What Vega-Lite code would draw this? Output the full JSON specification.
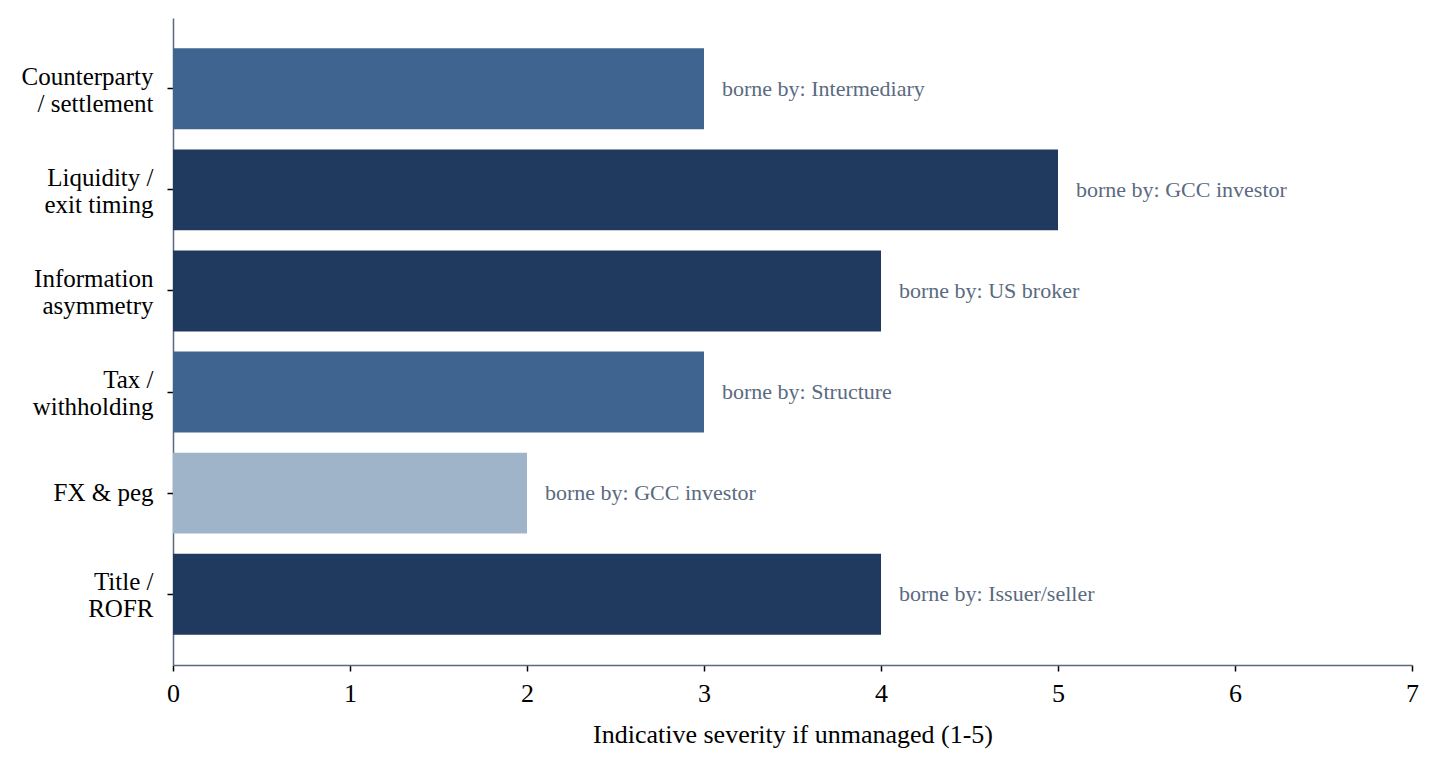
{
  "$schema": "https://vega.github.io/schema/vega-lite/v6.json",
  "width": 1239,
  "height": 647,
  "autosize": {"type": "none"},
  "padding": {"left": 173, "top": 18, "right": 29, "bottom": 104},
  "background": "white",
  "config": {
    "font": "Liberation Serif",
    "view": {"stroke": null}
  },
  "data": {
    "values": [
      {"risk": "Counterparty|/ settlement", "severity": 3, "bearer": "borne by: Intermediary"},
      {"risk": "Liquidity /|exit timing", "severity": 5, "bearer": "borne by: GCC investor"},
      {"risk": "Information|asymmetry", "severity": 4, "bearer": "borne by: US broker"},
      {"risk": "Tax /|withholding", "severity": 3, "bearer": "borne by: Structure"},
      {"risk": "FX & peg", "severity": 2, "bearer": "borne by: GCC investor"},
      {"risk": "Title /|ROFR", "severity": 4, "bearer": "borne by: Issuer/seller"}
    ]
  },
  "encoding": {
    "y": {
      "field": "risk",
      "type": "nominal",
      "sort": null,
      "title": null,
      "scale": {"paddingInner": 0.2, "paddingOuter": 0.3},
      "axis": {
        "labelExpr": "split(datum.label, '|')",
        "labelFont": "Liberation Serif",
        "labelFontSize": 25,
        "labelColor": "black",
        "labelLineHeight": 27,
        "labelBaseline": "middle",
        "labelOffset": {"condition": {"test": "indexof(datum.value, '|') >= 0", "value": -12}, "value": 0},
        "labelPadding": 14,
        "tickColor": "black",
        "tickSize": 6,
        "tickWidth": 1.5,
        "domainColor": "#5a6a80",
        "domainWidth": 1.5,
        "grid": false
      }
    }
  },
  "layer": [
    {
      "mark": {"type": "bar"},
      "encoding": {
        "x": {
          "field": "severity",
          "type": "quantitative",
          "scale": {"domain": [0, 7], "nice": false},
          "title": "Indicative severity if unmanaged (1-5)",
          "axis": {
            "values": [0, 1, 2, 3, 4, 5, 6, 7],
            "format": "d",
            "labelFont": "Liberation Serif",
            "labelFontSize": 26,
            "labelFlush": false,
            "labelColor": "black",
            "labelPadding": 9,
            "tickColor": "black",
            "tickSize": 6,
            "tickWidth": 1.5,
            "domainColor": "#5a6a80",
            "domainWidth": 1.5,
            "grid": false,
            "titleFont": "Liberation Serif",
            "titleFontSize": 26,
            "titleFontWeight": "normal",
            "titleColor": "black",
            "titlePadding": 15
          }
        },
        "color": {
          "field": "severity",
          "type": "ordinal",
          "scale": {"domain": [2, 3, 4, 5], "range": ["#a0b4c9", "#3f648f", "#1f3a5e", "#1f3a5e"]},
          "legend": null
        }
      }
    },
    {
      "mark": {"type": "text", "align": "left", "baseline": "middle", "dx": 18, "fontSize": 22, "font": "Liberation Serif", "color": "#5a6a80"},
      "encoding": {
        "x": {"field": "severity", "type": "quantitative"},
        "text": {"field": "bearer"}
      }
    }
  ]
}
